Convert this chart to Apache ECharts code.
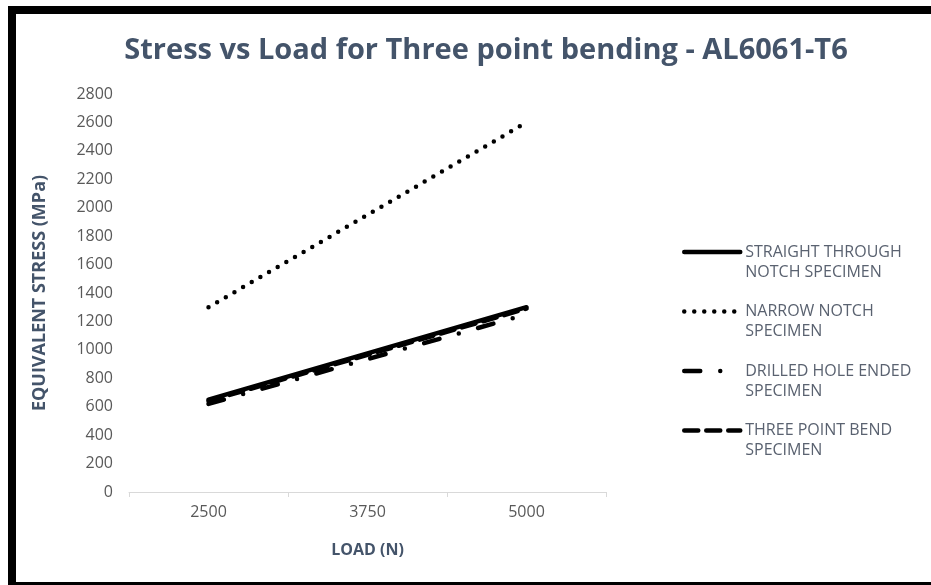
<!DOCTYPE html>
<html>
<head>
<meta charset="utf-8">
<script src="https://cdn.jsdelivr.net/npm/echarts@6/dist/echarts.min.js"></script>
<style>
html,body{margin:0;padding:0;background:#fff;}
#chart{width:931px;height:585px;}
</style>
</head>
<body>
<div id="chart"></div>
<script>
const loads = ['2500', '3750', '5000'];
const straightThrough = [650, 975, 1300];
const narrowNotch = [1300, 1950, 2600];
const drilledHole = [620, 935, 1250];
const threePointBend = [640, 965, 1290];
const seriesNames = ['STRAIGHT THROUGH NOTCH SPECIMEN', 'NARROW NOTCH SPECIMEN', 'DRILLED HOLE ENDED SPECIMEN', 'THREE POINT BEND SPECIMEN'];
const legendLines1 = ['STRAIGHT THROUGH', 'NARROW NOTCH', 'DRILLED HOLE ENDED', 'THREE POINT BEND'];
const legendLines2 = ['NOTCH SPECIMEN', 'SPECIMEN', 'SPECIMEN', 'SPECIMEN'];

const chart = echarts.init(document.getElementById('chart'), null, {renderer: 'canvas'});
const font = '"Open Sans", sans-serif';
const textGray = '#595959';
const titleColor = '#44546A';

function mk(name, data, type, width) {
  return {
    name: name, type: 'line', data: data, symbol: 'none',
    lineStyle: {color: '#000', width: width, type: type, cap: 'round'},
    itemStyle: {color: '#000'},
    emphasis: {disabled: true}, animation: false
  };
}

chart.setOption({
  animation: false,
  backgroundColor: '#fff',
  title: {
    text: 'Stress vs Load for Three point bending - AL6061-T6',
    left: 481, top: 31, textAlign: 'center',
    textStyle: {fontFamily: font, fontWeight: 'bold', fontSize: 29, color: titleColor}
  },
  grid: {left: 129, top: 94, width: 477, height: 398, containLabel: false},
  xAxis: {
    type: 'category', data: loads, boundaryGap: true,
    name: 'LOAD (N)', nameLocation: 'middle', nameGap: 50,
    nameTextStyle: {fontFamily: font, fontWeight: 'bold', fontSize: 16, color: titleColor},
    axisLine: {lineStyle: {color: '#d9d9d9', width: 1}},
    axisTick: {show: true, length: 5, lineStyle: {color: '#d9d9d9'}},
    axisLabel: {fontFamily: font, fontSize: 16, color: textGray, margin: 12},
    splitLine: {show: false}
  },
  yAxis: {
    type: 'value', min: 0, max: 2800, interval: 200,
    name: 'EQUIVALENT STRESS (MPa)', nameLocation: 'middle', nameGap: 80, nameRotate: 90,
    nameTextStyle: {fontFamily: font, fontWeight: 'bold', fontSize: 18, color: titleColor},
    axisLine: {show: false}, axisTick: {show: false},
    axisLabel: {fontFamily: font, fontSize: 16, color: textGray, margin: 16, formatter: function (v) { return String(v); }},
    splitLine: {show: false}
  },
  legend: {
    orient: 'vertical', left: 677, top: 219, itemGap: 3.5,
    itemWidth: 56, itemHeight: 12,
    data: seriesNames,
    formatter: function (n) {
      const i = seriesNames.indexOf(n);
      return '{s| }\n{a|' + legendLines1[i] + '}\n{a|' + legendLines2[i] + '}';
    },
    textStyle: {
      fontFamily: font, fontSize: 16, color: '#5a6270',
      rich: {
        s: {fontFamily: font, fontSize: 16, lineHeight: 20, color: '#5a6270'},
        a: {fontFamily: font, fontSize: 16, lineHeight: 20, color: '#5a6270'}
      }
    },
    lineStyle: {width: 4.5},
    itemStyle: {opacity: 0},
    selectedMode: false
  },
  series: [
    mk(seriesNames[0], straightThrough, 'solid', 4.5),
    mk(seriesNames[1], narrowNotch, [0, 10], 4.5),
    mk(seriesNames[2], drilledHole, [16, 20, 0, 20], 4.5),
    mk(seriesNames[3], threePointBend, [14, 8], 4.5)
  ],
  graphic: [
    {type: 'rect', shape: {x: 8, y: 6, width: 923, height: 8}, style: {fill: '#000'}, silent: true},
    {type: 'rect', shape: {x: 8, y: 6, width: 8, height: 579}, style: {fill: '#000'}, silent: true},
    {type: 'rect', shape: {x: 8, y: 582, width: 923, height: 3}, style: {fill: '#000'}, silent: true}
  ]
});
</script>
</body>
</html>
